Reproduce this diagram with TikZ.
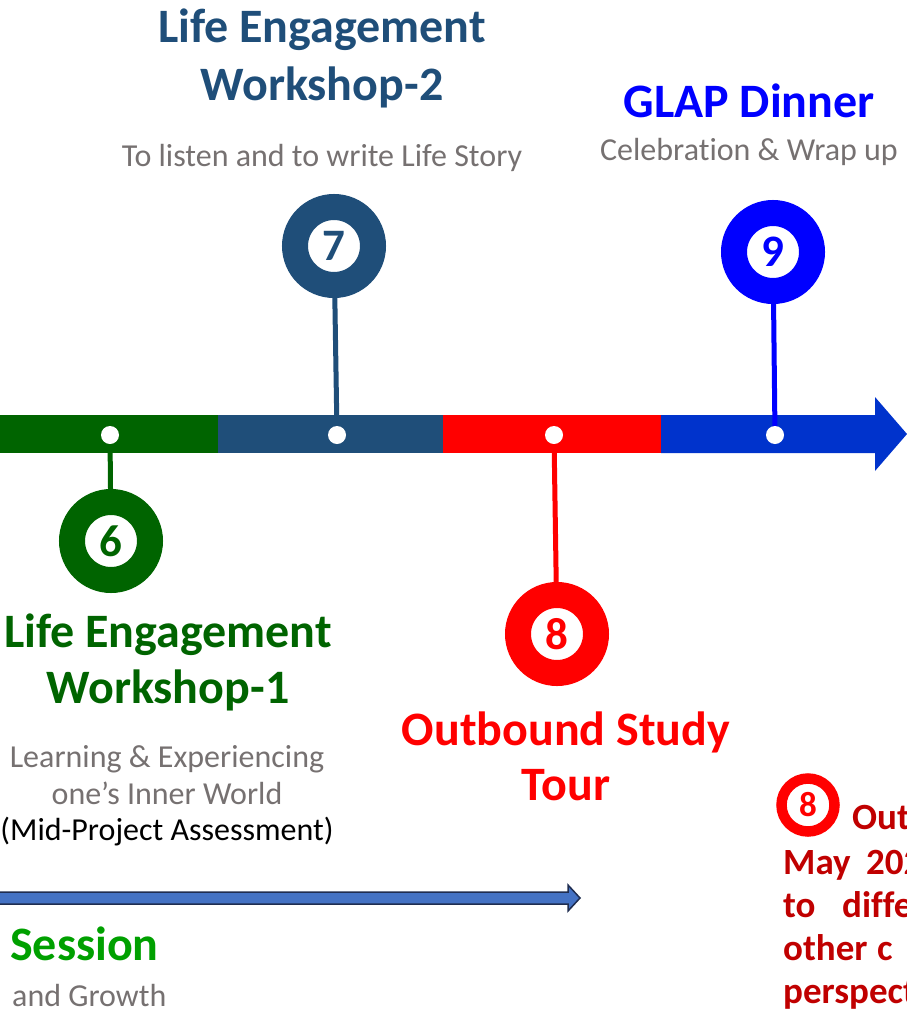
\documentclass[tikz,border=0pt]{standalone}
\usepackage{fontspec}
\setmainfont{Carlito}[Ligatures=NoCommon]
\usepackage{xcolor}
\usepackage{tikz}

\definecolor{tlgreen}{RGB}{0,100,0}
\definecolor{tlnavy}{RGB}{31,78,121}
\definecolor{tlred}{RGB}{255,0,0}
\definecolor{tlblue}{RGB}{0,51,204}
\definecolor{tlbright}{RGB}{0,0,255}
\definecolor{tlgray}{RGB}{118,113,113}
\definecolor{tlsession}{RGB}{0,160,0}
\definecolor{tldark}{RGB}{192,0,0}
\definecolor{tlarrow}{RGB}{68,114,196}
\definecolor{tledge}{RGB}{31,45,80}

\tikzset{
  pin/.style={circle, fill=white, draw=#1, text=#1, line width=26pt, minimum size=78pt, inner sep=0pt,
    font=\bfseries\fontsize{45}{45}\selectfont},
  smallpin/.style={circle, fill=white, draw=#1, text=#1, line width=10.5pt, minimum size=53pt, inner sep=0pt,
    font=\bfseries\fontsize{35}{35}\selectfont},
  dot/.style={circle, fill=white, minimum size=18pt, inner sep=0pt},
  stem/.style={draw=#1, line width=5pt},
  title/.style={text=#1, anchor=base, inner sep=0pt, font=\bfseries\fontsize{48}{56}\selectfont},
  note/.style={text=#1, anchor=base, inner sep=0pt, font=\fontsize{32}{37}\selectfont},
  body/.style={text=tldark, anchor=base west, inner sep=0pt, font=\bfseries\fontsize{37}{44}\selectfont}
}

\begin{document}
\begin{tikzpicture}[x=1pt,y=-1pt]
\useasboundingbox (0,0) rectangle (907,1012);
\clip (0,0) rectangle (907,1012);
% timeline bar
\fill[tlgreen] (0,415) rectangle (218,453);
\fill[tlnavy] (218,415) rectangle (443,453);
\fill[tlred] (443,415) rectangle (661,453);
\fill[tlblue] (661,415) -- (875,415) -- (875,397) -- (907,434) -- (875,471) -- (875,453) -- (661,453) -- cycle;
% pins
\node[pin=tlgreen] (c6) at (111,541) {6};
\node[pin=tlnavy] (c7) at (334,246) {7};
\node[pin=tlred] (c8) at (557,634) {8};
\node[pin=tlbright] (c9) at (773,252) {9};
\node[dot] (d6) at (110,435) {};
\node[dot] (d7) at (337,435) {};
\node[dot] (d8) at (554,435) {};
\node[dot] (d9) at (775,435) {};
\draw[stem=tlgreen] (d6) -- (c6);
\draw[stem=tlnavy] (d7) -- (c7);
\draw[stem=tlred] (d8) -- (c8);
\draw[stem=tlbright] (d9) -- (c9);
% lower arrow
\draw[fill=tlarrow, draw=tledge, line width=1.5pt] (-5,892) -- (568,892) -- (568,885) -- (580,898)
  -- (568,911) -- (568,904) -- (-5,904) -- cycle;
%Text
\node[title=tlnavy] (t7a) at (322,42) {Life Engagement};
\node[title=tlnavy] (t7b) at (322,100) {Workshop-2};
\node[note=tlgray] (n7) at (322,166) {To listen and to write Life Story};
\node[title=tlbright] (t9) at (749,117) {GLAP Dinner};
\node[note=tlgray] (n9) at (749,160) {Celebration \& Wrap up};
\node[title=tlgreen] (t6a) at (168,647) {Life Engagement};
\node[title=tlgreen] (t6b) at (168,703) {Workshop-1};
\node[note=tlgray] (n6a) at (167,767) {Learning \& Experiencing};
\node[note=tlgray] (n6b) at (167,804) {one’s Inner World};
\node[note=black] (n6c) at (167,840) {(Mid-Project Assessment)};
\node[title=tlred] (t8a) at (566,745) {Outbound Study};
\node[title=tlred] (t8b) at (566,800) {Tour};
\node[title=tlsession, anchor=base west] (ts) at (10,960) {Session};
\node[note=tlgray, anchor=base west] (ns) at (12,1006) {and Growth};
% note at lower right
\node[smallpin=tlred] (c8b) at (808,805) {8};
\node[body] (b1) at (852,829) {Out};
\node[body] (b2a) at (783,874) {May};
\node[body] (b2b) at (866,874) {202};
\node[body] (b3a) at (783,917) {to};
\node[body] (b3b) at (842,917) {diffe};
\node[body] (b4a) at (783,960) {other};
\node[body] (b4b) at (877,960) {c};
\node[body] (b5) at (783,1003) {perspect};
\end{tikzpicture}
\end{document}
